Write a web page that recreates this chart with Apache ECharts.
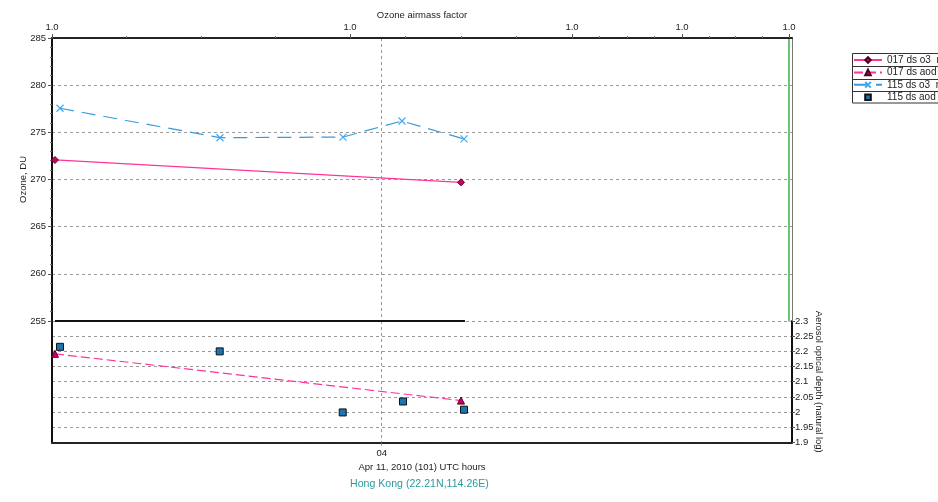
<!DOCTYPE html>
<html><head><meta charset="utf-8">
<script src="https://cdn.jsdelivr.net/npm/echarts@6/dist/echarts.min.js"></script>
<style>html,body{margin:0;padding:0;background:#fff}#c{width:938px;height:502px}</style>
</head><body><div id="c"></div>
<script>
// ---- data (time in UTC hours) ----
const X_MIN = 3.0, X_MAX = 5.2445;
const t017 = [3.009, 4.2405];
const o3_017 = [272.07, 269.70];
const aod_017 = [2.192, 2.038];
const t115 = [3.0243, 3.5096, 3.8826, 4.0616, 4.2496];
const o3_115 = [277.55, 274.43, 274.5, 276.2, 274.3];
const tAod115 = [3.0243, 3.5087, 3.8817, 4.0646, 4.2496];
const aod_115 = [2.215, 2.200, 1.999, 2.035, 2.008];
const baseT = [3.009, 4.2526];
const baseV = [255, 255];
const timeTicks = [4];
const timeLabels = ['04'];
const amfMajor = [3.0, 3.9038, 4.5772, 4.9108, 5.2354];
const amfLabels = ['1.0', '1.0', '1.0', '1.0', '1.0'];
const amfMinor = [3.226, 3.452, 3.678, 4.072, 4.2405, 4.409, 4.661, 4.744, 4.827, 4.992, 5.073, 5.1535];
const names = ['017 ds o3  n', '017 ds aod', '115 ds o3  n', '115 ds aod'];

const zip = (a, b) => a.map((v, i) => [v, b[i]]);
const FONT = 'Liberation Sans, Arial, sans-serif';
const TXT = '#222';
const FS = 9.5;
const gridDash = {color: '#999', type: [3, 3], width: 1};
const dotLine = {color: '#222', width: 2, type: [2, 1]};

const chart = echarts.init(document.getElementById('c'), null, {renderer: 'canvas'});
chart.setOption({
  animation: false,
  textStyle: {fontFamily: FONT},
  title: {
    text: 'Hong Kong (22.21N,114.26E)', left: 350, top: 479, padding: 0,
    textStyle: {fontSize: 10.6, fontWeight: 'normal', color: '#2a9a9a', fontFamily: FONT}
  },
  legend: {
    data: names, orient: 'vertical', left: 853, top: 54, padding: 0,
    itemWidth: 28, itemHeight: 7, itemGap: 0.4,
    textStyle: {fontSize: 10, color: TXT, lineHeight: 12, fontFamily: FONT}
  },
  graphic: [
    {type: 'rect', shape: {x: 852.5, y: 53.5, width: 100, height: 49.5}, style: {fill: 'none', stroke: '#333', lineWidth: 1}, z: 100},
    {type: 'line', shape: {x1: 852.5, y1: 66.5, x2: 938, y2: 66.5}, style: {stroke: '#333', lineWidth: 1}, z: 100},
    {type: 'line', shape: {x1: 852.5, y1: 79.5, x2: 938, y2: 79.5}, style: {stroke: '#333', lineWidth: 1}, z: 100},
    {type: 'line', shape: {x1: 852.5, y1: 91.5, x2: 938, y2: 91.5}, style: {stroke: '#333', lineWidth: 1}, z: 100}
  ],
  grid: [
    {left: 52, right: 146, top: 38, height: 283, containLabel: false, outerBoundsMode: 'none'},
    {left: 52, right: 146, top: 321, height: 121.5, containLabel: false, outerBoundsMode: 'none'}
  ],
  xAxis: [
    { // hidden time axis of upper panel (vertical grid line)
      gridIndex: 0, type: 'value', min: X_MIN, max: X_MAX, position: 'bottom',
      axisLine: {show: false, onZero: false}, axisTick: {show: false, customValues: timeTicks},
      axisLabel: {show: false, customValues: timeTicks},
      splitLine: {show: true, lineStyle: gridDash}
    },
    { // airmass factor, major
      gridIndex: 0, type: 'value', min: X_MIN, max: X_MAX, position: 'top',
      name: 'Ozone airmass factor', nameLocation: 'middle', nameGap: 18, nameMoveOverlap: false,
      nameTextStyle: {fontSize: FS, color: TXT, fontFamily: FONT},
      axisLine: {show: true, onZero: false, lineStyle: dotLine},
      axisTick: {show: true, length: 4, customValues: amfMajor, lineStyle: {color: '#555'}},
      axisLabel: {show: true, margin: 6, fontSize: FS, color: TXT, fontFamily: FONT, customValues: amfMajor,
        formatter: v => { let i = amfMajor.findIndex(m => Math.abs(m - v) < 1e-6); return i >= 0 ? amfLabels[i] : ''; }},
      splitLine: {show: false}
    },
    { // airmass factor, minor ticks
      gridIndex: 0, type: 'value', min: X_MIN, max: X_MAX, position: 'top',
      axisLine: {show: false, onZero: false},
      axisTick: {show: true, length: 2, customValues: amfMinor, lineStyle: {color: '#777'}},
      axisLabel: {show: false, customValues: amfMinor},
      splitLine: {show: false}
    },
    { // time axis of lower panel
      gridIndex: 1, type: 'value', min: X_MIN, max: X_MAX, position: 'bottom',
      name: 'Apr 11, 2010 (101) UTC hours', nameLocation: 'middle', nameGap: 20, nameMoveOverlap: false,
      nameTextStyle: {fontSize: FS, color: TXT, fontFamily: FONT},
      axisLine: {show: true, onZero: false, lineStyle: dotLine},
      axisTick: {show: true, length: 3, customValues: timeTicks, lineStyle: {color: '#777'}},
      axisLabel: {show: true, margin: 6, fontSize: FS, color: TXT, fontFamily: FONT, customValues: timeTicks,
        formatter: v => { let i = timeTicks.indexOf(v); return i >= 0 ? timeLabels[i] : ''; }},
      splitLine: {show: true, lineStyle: gridDash}
    }
  ],
  yAxis: [
    {
      gridIndex: 0, type: 'value', min: 255, max: 285, interval: 5, position: 'left',
      name: 'Ozone, DU', nameLocation: 'middle', nameGap: 24, nameMoveOverlap: false,
      nameTextStyle: {fontSize: FS, color: TXT, fontFamily: FONT},
      axisLine: {show: true, onZero: false, lineStyle: {color: '#111', width: 2}},
      axisTick: {show: true, length: 4, lineStyle: {color: '#555'}},
      minorTick: {show: true, splitNumber: 5, length: 2, lineStyle: {color: '#777'}},
      axisLabel: {margin: 6, fontSize: FS, color: TXT, fontFamily: FONT},
      splitLine: {show: true, lineStyle: gridDash}
    },
    { // green marker line at right of upper panel
      gridIndex: 0, type: 'value', min: 255, max: 285, position: 'right', offset: -3,
      axisLine: {show: true, onZero: false, lineStyle: {color: '#3cb043', width: 1.5}},
      axisTick: {show: false}, axisLabel: {show: false}, splitLine: {show: false}
    },
    { // left line of lower panel
      gridIndex: 1, type: 'value', min: 1.9, max: 2.3, position: 'left',
      axisLine: {show: true, onZero: false, lineStyle: {color: '#111', width: 2}},
      axisTick: {show: false}, axisLabel: {show: false}, splitLine: {show: false}
    },
    {
      gridIndex: 1, type: 'value', min: 1.9, max: 2.3, interval: 0.05, position: 'right',
      name: 'Aerosol optical depth (natural log)', nameLocation: 'middle', nameGap: 22, nameRotate: -90,
      nameMoveOverlap: false,
      nameTextStyle: {fontSize: FS, color: TXT, fontFamily: FONT},
      axisLine: {show: true, onZero: false, lineStyle: {color: '#111', width: 2}},
      axisTick: {show: true, length: 3, lineStyle: {color: '#555'}},
      axisLabel: {margin: 3, fontSize: FS, color: TXT, fontFamily: FONT},
      splitLine: {show: true, lineStyle: gridDash}
    },
    { // thin right border of upper panel
      gridIndex: 0, type: 'value', min: 255, max: 285, position: 'right', offset: 0,
      axisLine: {show: true, onZero: false, lineStyle: {color: '#777', width: 1}},
      axisTick: {show: false}, axisLabel: {show: false}, splitLine: {show: false}
    }
  ],
  series: [
    {
      name: 'baseline', type: 'line', xAxisIndex: 0, yAxisIndex: 0, data: zip(baseT, baseV),
      symbol: 'none', silent: true, lineStyle: {color: '#111', width: 2}, z: 3
    },
    {
      name: names[0], type: 'line', xAxisIndex: 0, yAxisIndex: 0, data: zip(t017, o3_017),
      symbol: 'diamond', symbolSize: 7,
      itemStyle: {color: '#cc0066', borderColor: '#550022', borderWidth: 1},
      lineStyle: {color: '#ff3399', width: 1.2}, z: 4
    },
    {
      name: names[2], type: 'line', xAxisIndex: 0, yAxisIndex: 0, data: zip(t115, o3_115),
      symbol: 'path://M0,0L10,10M10,0L0,10', symbolSize: 7,
      itemStyle: {color: 'rgba(0,0,0,0)', borderColor: '#3fa9f5', borderWidth: 1.2},
      lineStyle: {color: '#3a9ad9', width: 1.2, type: [14, 8]}, z: 4
    },
    {
      name: names[1], type: 'line', xAxisIndex: 3, yAxisIndex: 3, data: zip(t017, aod_017),
      symbol: 'triangle', symbolSize: 7,
      itemStyle: {color: '#cc0066', borderColor: '#550022', borderWidth: 1},
      lineStyle: {color: '#ff3399', width: 1.2, type: [9, 4]}, z: 4
    },
    {
      name: names[3], type: 'line', xAxisIndex: 3, yAxisIndex: 3, data: zip(tAod115, aod_115),
      symbol: 'rect', symbolSize: 7, showAllSymbol: true,
      itemStyle: {color: '#1a75b0', borderColor: '#111', borderWidth: 1},
      lineStyle: {opacity: 0, width: 0}, z: 4
    }
  ]
});
</script>
</body></html>
